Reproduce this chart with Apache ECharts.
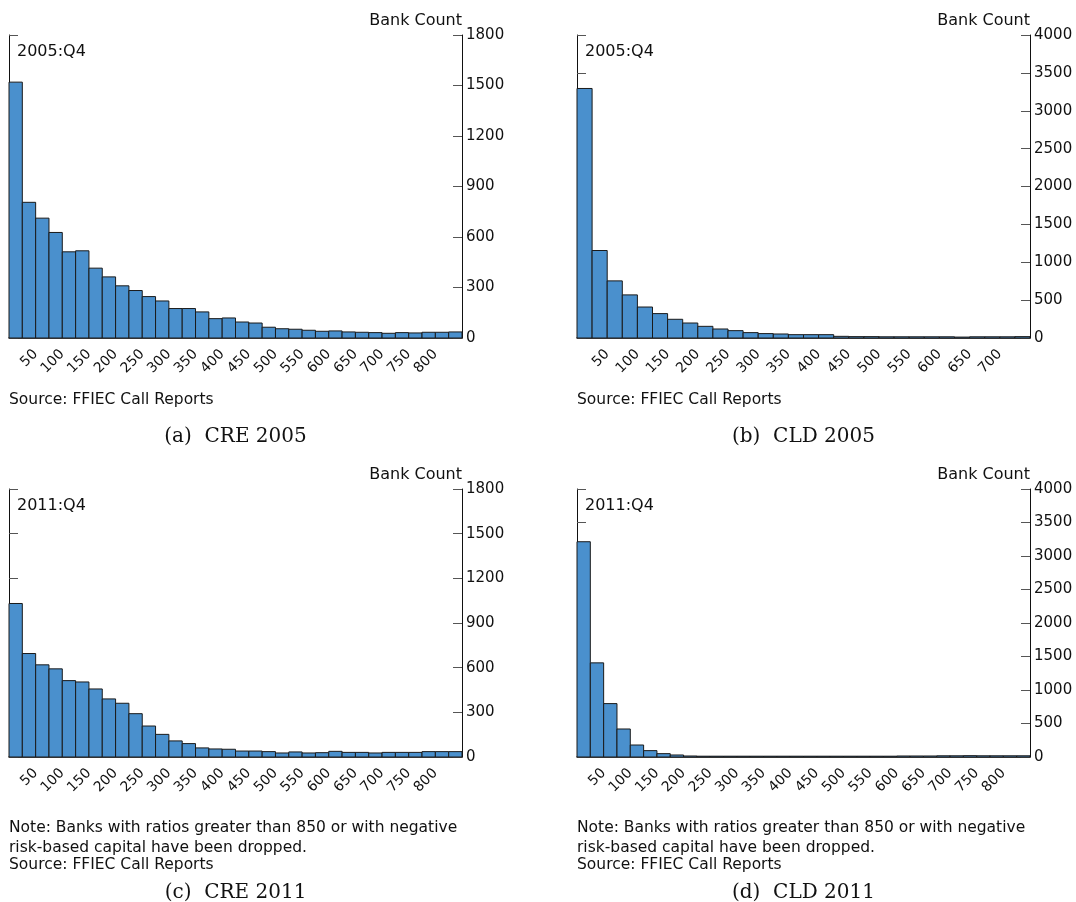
<!DOCTYPE html>
<html style="height: 100%">
<head>
    <meta charset="utf-8">
    <style>
        html, body { margin: 0; padding: 0; background: #fff; }
        #container { width: 1076px; height: 902px; }
    </style>
</head>
<body>
<div id="container"></div>
<script src="https://cdn.jsdelivr.net/npm/echarts@6/dist/echarts.min.js"></script>
<script type="text/javascript">

    // bin width of the histograms (ratio units)
    var binWidth = 25;

    // (a) CRE 2005 - bank counts per bin
    var cre2005 = [1520, 806, 712, 627, 512, 518, 415, 363, 310, 282, 246, 220, 175, 175,
        155, 115, 119, 95, 89, 64, 55, 52, 46, 40, 42, 36, 34, 32, 28, 32, 30, 34, 34, 36];
    // (b) CLD 2005
    var cld2005 = [3294, 1155, 754, 569, 409, 322, 247, 198, 154, 119, 97, 71, 58, 53,
        44, 44, 44, 22, 18, 18, 16, 16, 16, 16, 16, 12, 16, 16, 16, 18];
    // (c) CRE 2011
    var cre2011 = [1031, 695, 619, 592, 513, 504, 457, 390, 361, 291, 208, 152, 108, 90,
        61, 54, 52, 40, 40, 36, 27, 34, 27, 29, 38, 31, 31, 27, 31, 31, 31, 36, 36, 36];
    // (d) CLD 2011
    var cld2011 = [3213, 1405, 797, 418, 179, 95, 50, 30, 15, 12, 12, 12, 12, 12, 12, 12,
        12, 12, 12, 12, 12, 12, 12, 12, 15, 15, 15, 18, 18, 20, 18, 18, 18, 18];

    var periods = ['2005:Q4', '2005:Q4', '2011:Q4', '2011:Q4'];
    var captions = ['(a)  CRE 2005', '(b)  CLD 2005', '(c)  CRE 2011', '(d)  CLD 2011'];
    var yMax = [1800, 4000, 1800, 4000];
    var yStep = [300, 500, 300, 500];
    var source = 'Source: FFIEC Call Reports';
    var noteLines = ['Note: Banks with ratios greater than 850 or with negative',
        'risk-based capital have been dropped.'];

    var panels = [cre2005, cld2005, cre2011, cld2011];

    // panel boxes (plot areas)
    var boxes = [
        {left: 9, top: 35, width: 453, height: 303},
        {left: 577, top: 35, width: 453, height: 303},
        {left: 9, top: 489, width: 453, height: 268},
        {left: 577, top: 489, width: 453, height: 268}
    ];

    var FONT = 'DejaVu Sans';
    var barColor = '#4a90cd';

    var grids = [], xAxes = [], yAxes = [], series = [], graphics = [];

    boxes.forEach(function (b, i) {
        var counts = panels[i];
        var xMax = counts.length * binWidth;
        grids.push({left: b.left, top: b.top, width: b.width, height: b.height, containLabel: false});

        xAxes.push({
            type: 'value', gridIndex: i, min: 0, max: xMax, interval: 50,
            axisLine: {show: true, lineStyle: {color: '#111', width: 1.5}},
            axisTick: {show: false},
            splitLine: {show: false},
            axisLabel: {
                rotate: 45, margin: 14, fontFamily: FONT, fontSize: 14, color: '#111',
                formatter: function (v) { return (v <= 0 || v >= xMax) ? '' : String(v); }
            }
        });

        // left axis: ticks only
        yAxes.push({
            type: 'value', gridIndex: i, position: 'left', min: 0, max: yMax[i], interval: yStep[i],
            axisLine: {show: true, lineStyle: {color: '#111', width: 1}},
            axisTick: {show: true, inside: true, length: 9, lineStyle: {color: '#555'}},
            axisLabel: {show: false},
            splitLine: {show: false}
        });
        // right axis: labels + name
        yAxes.push({
            type: 'value', gridIndex: i, position: 'right', min: 0, max: yMax[i], interval: yStep[i],
            name: 'Bank Count', nameLocation: 'end', nameGap: 6,
            nameTextStyle: {align: 'right', fontFamily: FONT, fontSize: 16, color: '#111'},
            axisLine: {show: true, lineStyle: {color: '#111', width: 1}},
            axisTick: {show: true, inside: true, length: 9, lineStyle: {color: '#555'}},
            axisLabel: {
                margin: 4, fontFamily: FONT, fontSize: 15, color: '#111',
                formatter: function (v) { return String(v); }
            },
            splitLine: {show: false}
        });

        var data = counts.map(function (c, k) {
            return [k * binWidth, (k + 1) * binWidth, c];
        });

        series.push({
            type: 'custom',
            xAxisIndex: i,
            yAxisIndex: i * 2 + 1,
            data: data,
            encode: {x: [0, 1], y: 2},
            renderItem: function (params, api) {
                var p0 = api.coord([api.value(0), api.value(2)]);
                var p1 = api.coord([api.value(1), 0]);
                return {
                    type: 'rect',
                    shape: {x: p0[0], y: p0[1], width: p1[0] - p0[0], height: p1[1] - p0[1]},
                    style: {fill: barColor, stroke: '#1a1a1a', lineWidth: 1}
                };
            }
        });

        // period label inside the plot
        graphics.push({
            type: 'text', x: b.left + 8, y: b.top + 9,
            style: {text: periods[i], fontFamily: FONT, fontSize: 16, fill: '#111', verticalAlign: 'top'}
        });
    });

    // footnotes and captions
    [0, 1].forEach(function (c) {
        var left = boxes[c].left;
        var center = boxes[c].left + boxes[c].width / 2;
        graphics.push({
            type: 'text', x: left, y: 392,
            style: {text: source, fontFamily: FONT, fontSize: 15.5, fill: '#111', verticalAlign: 'top'}
        });
        graphics.push({
            type: 'text', x: center, y: 437,
            style: {text: captions[c], fontFamily: 'DejaVu Serif', fontSize: 20, fill: '#111',
                align: 'center', verticalAlign: 'middle'}
        });
        graphics.push({
            type: 'text', x: left, y: 820,
            style: {text: noteLines[0], fontFamily: FONT, fontSize: 15.5, fill: '#111', verticalAlign: 'top'}
        });
        graphics.push({
            type: 'text', x: left, y: 840,
            style: {text: noteLines[1], fontFamily: FONT, fontSize: 15.5, fill: '#111', verticalAlign: 'top'}
        });
        graphics.push({
            type: 'text', x: left, y: 857,
            style: {text: source, fontFamily: FONT, fontSize: 15.5, fill: '#111', verticalAlign: 'top'}
        });
        graphics.push({
            type: 'text', x: center, y: 893,
            style: {text: captions[c + 2], fontFamily: 'DejaVu Serif', fontSize: 20, fill: '#111',
                align: 'center', verticalAlign: 'middle'}
        });
    });

    var myChart = echarts.init(document.getElementById('container'));
    var option = {
        animation: false,
        backgroundColor: '#fff',
        grid: grids,
        xAxis: xAxes,
        yAxis: yAxes,
        series: series,
        graphic: graphics
    };
    myChart.setOption(option);
</script>
</body>
</html>
